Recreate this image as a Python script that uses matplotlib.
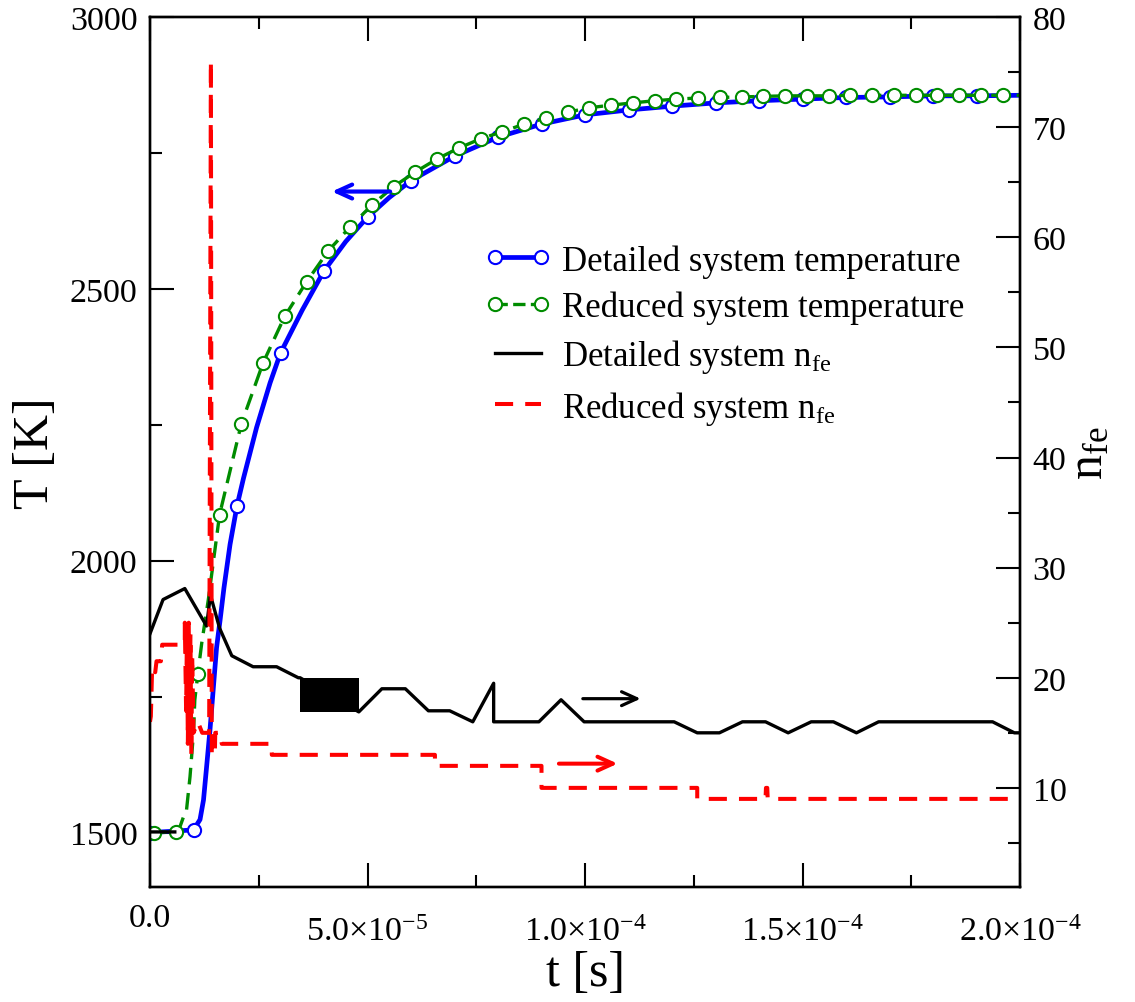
import numpy as np
import matplotlib.pyplot as plt
from matplotlib.lines import Line2D
from matplotlib.ticker import MultipleLocator, FixedLocator
from matplotlib.transforms import blended_transform_factory

plt.rcParams['font.family'] = ['Liberation Serif', 'DejaVu Serif']
plt.rcParams['mathtext.fontset'] = 'custom'
plt.rcParams['mathtext.rm'] = 'Liberation Serif'
plt.rcParams['mathtext.it'] = 'Liberation Serif:italic'

# detailed system temperature, markers every 1e-5 s
det_t_mark = np.arange(20) * 1e-5
det_T_mark = [1500, 1505, 2101, 2382, 2533, 2632, 2699, 2744, 2779, 2803,
              2820, 2829, 2836, 2842, 2846, 2849, 2852, 2853, 2855, 2855]
# extra points
det_t_extra = np.array([1.15, 1.23, 1.30, 1.38, 1.46, 1.53, 1.61, 1.70, 1.84,
                        2.15, 2.45, 2.76, 3.5, 4.5, 5.5, 20.0]) * 1e-5
det_T_extra = [1524, 1560, 1620, 1690, 1770, 1840, 1890, 1950, 2030,
               2152, 2245, 2327, 2461, 2587, 2668, 2856]

# reduced system temperature, markers every 5e-6 s starting at 1e-6 s
red_t_mark = (0.1 + 0.5 * np.arange(40)) * 1e-5
red_T_mark = [1500, 1502, 1792, 2085, 2252, 2364, 2450, 2513, 2570, 2614,
              2654, 2688, 2715, 2739, 2759, 2776, 2789, 2803, 2814, 2825,
              2833, 2838, 2842, 2846, 2849, 2851, 2852, 2853, 2854, 2855,
              2855, 2855, 2856, 2856, 2856, 2856, 2856, 2856, 2856, 2856]
red_t_extra = np.array([0.0, 0.69, 0.77, 0.84, 0.92, 1.0, 1.03, 1.19, 1.34, 20.0]) * 1e-5
red_T_extra = [1500, 1511, 1529, 1542, 1603, 1684, 1744, 1849, 1928, 2856]

# detailed system n_fe (NaN splits the short piece at the start)
det_n_t = np.array([0.0, 0.57, np.nan, 0.0, 0.3, 0.8, 1.3, 1.39, 1.6, 1.88, 2.37,
                    2.91, 3.41, 3.45, 4.8, 5.33, 5.87, 6.40, 6.89, 7.42, 7.90,
                    7.90, 8.94, 9.45, 9.98, 12.05, 12.58, 13.09, 13.62, 14.15,
                    14.67, 15.20, 15.71, 16.24, 16.75, 19.37, 19.87, 20.0]) * 1e-5
det_n = [6.0, 6.0, np.nan, 24.0, 27.1, 28.1, 24.7, 27.5, 24.5, 22.0, 21.0,
         21.0, 20.0, 20.0, 16.9, 19.0, 19.0, 17.0, 17.0, 16.0, 19.5,
         16.0, 16.0, 18.0, 16.0, 16.0, 15.0, 15.0, 16.0, 16.0,
         15.0, 16.0, 16.0, 15.0, 16.0, 16.0, 15.0, 15.0]
# fast oscillation of the detailed n_fe, drawn as a filled band
osc_t = np.array([3.45, 4.8]) * 1e-5
osc_lo = [16.9, 16.9]
osc_hi = [20.0, 20.0]

# reduced system n_fe
red_n_t = np.array([0.0, 0.02, 0.05, 0.12, 0.15, 0.25, 0.28, 0.80, 0.80, 0.83,
                    0.85, 0.87, 0.89, 0.91, 0.93, 0.95, 0.97, 1.0, 1.1, 1.2,
                    1.36, 1.40, 1.42, 1.49, 1.50, 1.62, 1.65, 2.8, 2.8, 6.55,
                    6.55, 9.0, 9.0, 12.58, 12.58, 14.15, 14.16, 14.19, 14.2,
                    20.0]) * 1e-5
red_n = [16.0, 16.5, 21.0, 20.5, 21.5, 21.5, 23.0, 23.0, 25.0, 17.0,
         24.5, 14.0, 25.0, 15.5, 24.0, 13.0, 22.0, 15.0, 16.0, 15.0,
         15.0, 76.0, 13.0, 13.0, 15.0, 15.0, 14.0, 14.0, 13.0, 13.0,
         12.0, 12.0, 10.0, 10.0, 9.0, 9.0, 10.0, 10.0, 9.0,
         9.0]

x_ticks = [0.0, 5e-5, 1e-4, 1.5e-4, 2e-4]
x_tick_labels = ['0.0', r'5.0$\times$10$^{-5}$', r'1.0$\times$10$^{-4}$',
                 r'1.5$\times$10$^{-4}$', r'2.0$\times$10$^{-4}$']

labels = ['Detailed system temperature', 'Reduced system temperature',
          r'Detailed system n$_{\mathrm{fe}}$', r'Reduced system n$_{\mathrm{fe}}$']

fig = plt.figure(figsize=(11.35, 10.03), dpi=100)
ax = fig.add_axes([0.13216, 0.11466, 0.76652, 0.86740])
ax2 = ax.twinx()

# line through markers + extra points
dt = np.concatenate([det_t_mark, det_t_extra])
dT = np.concatenate([det_T_mark, det_T_extra])
o = np.argsort(dt)
rt = np.concatenate([red_t_mark, red_t_extra])
rT = np.concatenate([red_T_mark, red_T_extra])
o2 = np.argsort(rt)

blue_kw = dict(color='#0000ff', lw=3.4)
green_kw = dict(color='#008c00', lw=2.4, dashes=(5, 2.6))
mk_kw = dict(marker='o', ms=9.5, mfc='white', mew=1.5, ls='none')

ax.plot(dt[o], dT[o], **blue_kw)
ax.plot(det_t_mark, det_T_mark, mec='#0000ff', **mk_kw)
ax.plot(rt[o2], rT[o2], **green_kw)
ax.plot(red_t_mark, red_T_mark, mec='#008c00', **mk_kw)

arrow_style = '->,head_length=0.55,head_width=0.25'
ax.annotate('', xy=(4.18e-5, 2679), xytext=(5.52e-5, 2679),
            arrowprops=dict(arrowstyle=arrow_style, color='#0000ff', lw=3,
                            mutation_scale=20, shrinkA=0, shrinkB=0))

ax2.plot(det_n_t, det_n, color='black', lw=2.4)
ax2.fill_between(osc_t, osc_lo, osc_hi, color='black', lw=0)
ax2.plot(red_n_t, red_n, color='#ff0000', lw=2.9, dashes=(4.5, 3.0))

ax2.annotate('', xy=(11.28e-5, 18.1), xytext=(9.95e-5, 18.1),
             arrowprops=dict(arrowstyle=arrow_style, color='black', lw=2.3,
                             mutation_scale=20, shrinkA=0, shrinkB=0))
ax2.annotate('', xy=(10.75e-5, 12.2), xytext=(9.4e-5, 12.2),
             arrowprops=dict(arrowstyle=arrow_style, color='#ff0000', lw=2.9,
                             mutation_scale=20, shrinkA=0, shrinkB=0))

ax.set_xlim(0, 2e-4)
ax.set_ylim(1400, 3000)
ax2.set_ylim(1, 80)

ax.xaxis.set_major_locator(FixedLocator(x_ticks))
ax.xaxis.set_minor_locator(MultipleLocator(2.5e-5))
ax.yaxis.set_major_locator(MultipleLocator(500))
ax.yaxis.set_minor_locator(MultipleLocator(250))
ax2.yaxis.set_major_locator(MultipleLocator(10))
ax2.yaxis.set_minor_locator(MultipleLocator(5))

for a in (ax, ax2):
    for s in a.spines.values():
        s.set_linewidth(1.7)
ax.tick_params(which='both', direction='in', top=True, right=False, width=1.5,
               labelsize=24.5, labelbottom=False)
ax.tick_params(which='major', length=17)
ax.tick_params(which='minor', length=8.5)
ax.tick_params(axis='y', pad=9)
ax2.tick_params(which='both', direction='in', width=1.5, labelsize=24.5, pad=9)
ax2.tick_params(which='major', length=17)
ax2.tick_params(which='minor', length=8.5)

# x tick labels written by hand: labels with an exponent sit lower
trans = blended_transform_factory(ax.transData, ax.transAxes)
for xv, lab in zip(x_ticks, x_tick_labels):
    yb = -0.061 if '$' in lab else -0.0445
    ax.text(xv, yb, lab, transform=trans, ha='center', va='baseline',
            fontsize=24.5)

ax.set_xlabel('t [s]', fontsize=36)
ax.xaxis.set_label_coords(0.5, -0.072)
ax.set_ylabel('T [K]', fontsize=36, labelpad=8)
ax2.set_ylabel(r'n$_{\mathrm{fe}}$', fontsize=36, labelpad=0)

handles = [Line2D([], [], mec='#0000ff', **{**blue_kw, **mk_kw, 'ls': '-'}),
           Line2D([], [], mec='#008c00', **{**green_kw, **mk_kw, 'ls': '--'}),
           Line2D([], [], color='black', lw=2.4),
           Line2D([], [], color='#ff0000', lw=2.9, dashes=(4.5, 3.0))]
ax2.legend(handles, labels, loc='upper left', bbox_to_anchor=(0.385, 0.739),
           frameon=False, fontsize=25, numpoints=2, handlelength=1.9,
           handletextpad=0.32, labelspacing=0.38, borderpad=0, borderaxespad=0)

fig.savefig('out.png', dpi=100)
